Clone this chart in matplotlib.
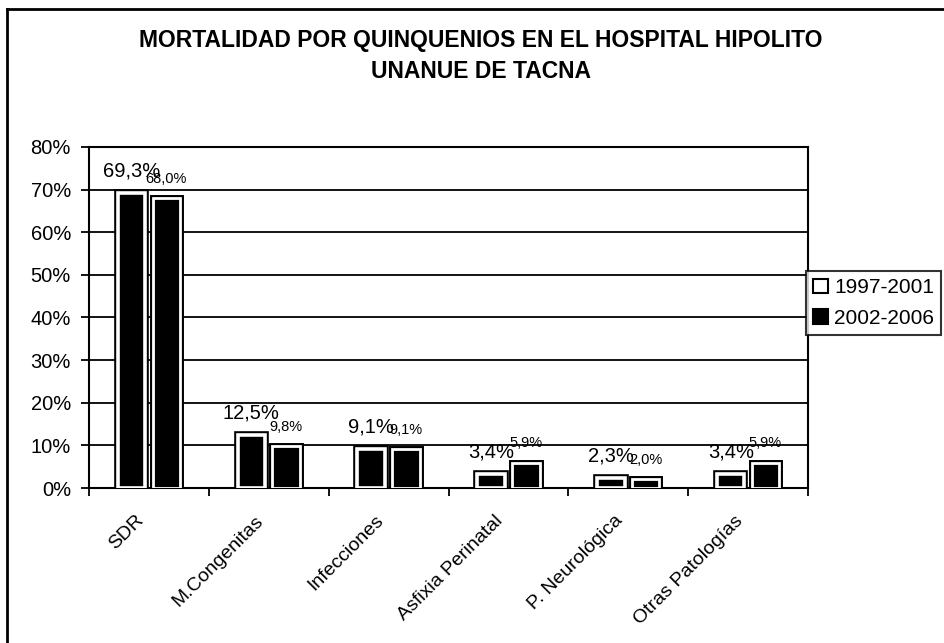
import numpy as np
import matplotlib
matplotlib.use("Agg")
import matplotlib.pyplot as plt
import matplotlib.patheffects as pe
from matplotlib.lines import Line2D
from matplotlib.ticker import FuncFormatter
from matplotlib.transforms import ScaledTranslation

# datos
categorias = ["SDR", "M.Congenitas", "Infecciones", "Asfixia Perinatal",
              "P. Neurológica", "Otras Patologías"]
q1997 = [69.3, 12.5, 9.1, 3.4, 2.3, 3.4]
q2002 = [68.0, 9.8, 9.1, 5.9, 2.0, 5.9]
series = ["1997-2001", "2002-2006"]

plt.rcParams['font.family'] = ['Liberation Sans', 'DejaVu Sans']

fig = plt.figure(figsize=(9.44, 6.43), dpi=100)
ax = fig.add_axes([89/944, 1 - 488/643, (808-89)/944, (488-147)/643])

x = np.arange(len(categorias))
paso = 0.29          # separacion entre barras de un grupo
ancho = 0.23         # ancho nominal (el borde agrega el resto)

efecto1 = [pe.Stroke(linewidth=5.5, foreground='black'), pe.Normal()]
efecto2 = [pe.Stroke(linewidth=5.0, foreground='black'), pe.Normal()]

b1 = ax.bar(x - paso/2, q1997, ancho, color='black', edgecolor='white',
            linewidth=2.6, zorder=3)
b2 = ax.bar(x + paso/2, q2002, ancho, color='black', edgecolor='white',
            linewidth=2.0, zorder=3)
for r in b1:
    r.set_path_effects(efecto1)
for r in b2:
    r.set_path_effects(efecto2)

# etiquetas de datos
for xi, v in zip(x, q1997):
    ax.annotate(f"{v:.1f}%".replace(".", ","), (xi - paso/2, v),
                xytext=(0, 9), textcoords='offset points',
                ha='center', va='bottom', fontsize=14.5, zorder=5)
for xi, v in zip(x, q2002):
    ax.annotate(f"{v:.1f}%".replace(".", ","), (xi + paso/2, v),
                xytext=(0, 9), textcoords='offset points',
                ha='center', va='bottom', fontsize=10.5, zorder=5)

ax.set_ylim(0, 80)
ax.set_xlim(-0.5, len(categorias) - 0.5)
ax.set_yticks(np.arange(0, 81, 10))
ax.yaxis.set_major_formatter(FuncFormatter(lambda v, p: f"{v:.0f}%"))
ax.tick_params(axis='y', labelsize=14.5, length=6, width=1.3, direction='out',
               pad=7)
ax.grid(axis='y', color='black', linewidth=1.3, zorder=0)
ax.set_axisbelow(True)

ax.set_xticks(np.arange(-0.5, len(categorias)), labels=[])
ax.set_xticks(x, labels=categorias, minor=True)
ax.tick_params(axis='x', which='major', length=6, width=1.3)
ax.tick_params(axis='x', which='minor', length=0, labelsize=14, pad=8)
desplaza = ScaledTranslation(-14/100, -13/100, fig.dpi_scale_trans)
for lab in ax.get_xticklabels(minor=True):
    lab.set_rotation(45)
    lab.set_ha('right')
    lab.set_va('top')
    lab.set_rotation_mode('anchor')
    lab.set_transform(lab.get_transform() + desplaza)

for s in ax.spines.values():
    s.set_linewidth(1.5)
    s.set_color('black')

# leyenda
manijas = [plt.Rectangle((0, 0), 1, 1, facecolor='white', edgecolor='black', linewidth=1.5),
           plt.Rectangle((0, 0), 1, 1, facecolor='black', edgecolor='black', linewidth=1.5)]
leg = fig.legend(manijas, series, loc='upper left',
                 bbox_to_anchor=(806/944, 1 - 271/643), fontsize=15,
                 frameon=True, fancybox=False, edgecolor='black',
                 handlelength=0.7, handleheight=0.7, handletextpad=0.3,
                 borderpad=0.35, labelspacing=0.55, borderaxespad=0)
leg.get_frame().set_linewidth(1.5)

# titulo
fig.text(481/944, 1 - 41/643, "MORTALIDAD POR QUINQUENIOS EN EL HOSPITAL HIPOLITO",
         ha='center', va='center', fontsize=16.5, fontweight='bold')
fig.text(481/944, 1 - 71/643, "UNANUE DE TACNA",
         ha='center', va='center', fontsize=16.5, fontweight='bold')

# marco del grafico (solo arriba e izquierda visibles en el escaneo)
fig.add_artist(Line2D([7/944, 7/944], [0, 1 - 9/643], color='black', linewidth=2))
fig.add_artist(Line2D([7/944, 1], [1 - 9/643, 1 - 9/643], color='black', linewidth=2))

fig.savefig("out.png", dpi=100)
